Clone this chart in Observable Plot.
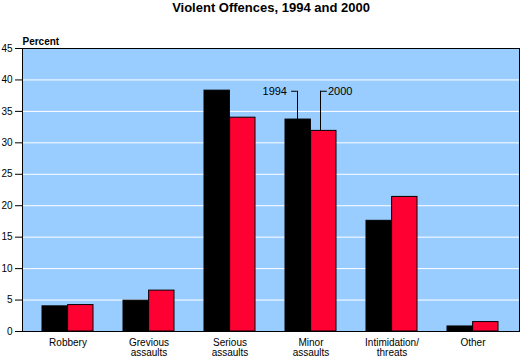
<!DOCTYPE html>
<html>
<head>
<meta charset="utf-8">
<script src="https://cdn.jsdelivr.net/npm/d3@7"></script>
<script src="https://cdn.jsdelivr.net/npm/@observablehq/plot@0.6"></script>
<style>
  body { margin: 0; background: #fff; font-family: "Liberation Sans", Arial, sans-serif; }
  #title { width: 520px; height: 20px; box-sizing: border-box; padding-left: 22px; text-align: center;
           font: bold 13px "Liberation Sans", Arial, sans-serif; line-height: 15px; color: #000; }
</style>
</head>
<body>
<div id="title">Violent Offences, 1994 and 2000</div>
<div id="chart"></div>
<script>
const categories = ["Robbery", "Grevious\nassaults", "Serious\nassaults", "Minor\nassaults", "Intimidation/\nthreats", "Other"];
const years = ["1994", "2000"];
const values1994 = [4.0, 4.9, 38.3, 33.7, 17.6, 0.8];
const values2000 = [4.2, 6.5, 34.0, 31.9, 21.4, 1.5];
const yTicks = [0, 5, 10, 15, 20, 25, 30, 35, 40, 45];
const gridTicks = [5, 10, 15, 20, 25, 30, 35, 40];
const yLabel = "Percent";
const annotationCategory = "Minor\nassaults";
const annotationLevel = 38.2;

const data1994 = categories.map((c, i) => ({category: c, year: years[0], value: values1994[i]}));
const data2000 = categories.map((c, i) => ({category: c, year: years[1], value: values2000[i]}));
const annIdx = categories.indexOf(annotationCategory);

const width = 520, height = 340;
const ml = 22, mr = 1, mt = 28, mb = 29;
const pIn = 0.37, pOut = 0.24;
const step = (width - ml - mr) / (categories.length - pIn + 2 * pOut);
const bw = step * (1 - pIn);
const half = bw / 2;

const font = "Liberation Sans, Arial, sans-serif";

const chart = Plot.plot({
  width, height,
  marginLeft: ml, marginRight: mr, marginTop: mt, marginBottom: mb,
  style: {fontFamily: font, fontSize: "10px", color: "#000", background: "transparent", overflow: "visible"},
  x: {type: "band", domain: categories, paddingInner: pIn, paddingOuter: pOut, label: null},
  y: {domain: [0, 45], label: null},
  marks: [
    Plot.frame({fill: "#99ccff", stroke: "none"}),
    Plot.ruleY(gridTicks, {stroke: "white", strokeWidth: 1}),
    Plot.barY(data1994, {x: "category", y: "value", fill: "black", stroke: "black", strokeWidth: 1, insetRight: half}),
    Plot.barY(data2000, {x: "category", y: "value", fill: "#ff0033", stroke: "black", strokeWidth: 1, insetLeft: half}),
    // leader lines for annotations
    Plot.ruleX([annotationCategory], {x: d => d, y1: values1994[annIdx], y2: annotationLevel, stroke: "black", dx: -13.5}),
    Plot.ruleX([annotationCategory], {x: d => d, y1: values2000[annIdx], y2: annotationLevel, stroke: "black", dx: 9.5}),
    Plot.tickY([annotationCategory], {x: d => d, y: () => annotationLevel, stroke: "black", insetLeft: half - 19.5, insetRight: half + 13.5}),
    Plot.tickY([annotationCategory], {x: d => d, y: () => annotationLevel, stroke: "black", insetLeft: half + 9.5, insetRight: half - 16.5}),
    Plot.text([years[0]], {x: () => annotationCategory, y: () => annotationLevel, text: d => d, dx: -24, textAnchor: "end", fontSize: 11, fill: "black"}),
    Plot.text([years[1]], {x: () => annotationCategory, y: () => annotationLevel, text: d => d, dx: 17, textAnchor: "start", fontSize: 11, fill: "black"}),
    Plot.frame({stroke: "black", strokeWidth: 1}),
    Plot.axisY({ticks: yTicks, tickSize: 7, tickPadding: 3, label: null, fontSize: 10}),
    Plot.axisX({tickSize: 0, tickPadding: 7, label: null, fontSize: 10}),
    Plot.text([yLabel], {text: d => d, frameAnchor: "top-left", textAnchor: "start", lineAnchor: "bottom", dy: -4, fontWeight: "bold", fontSize: 10, fill: "black"})
  ]
});
document.getElementById("chart").appendChild(chart);
</script>
</body>
</html>
